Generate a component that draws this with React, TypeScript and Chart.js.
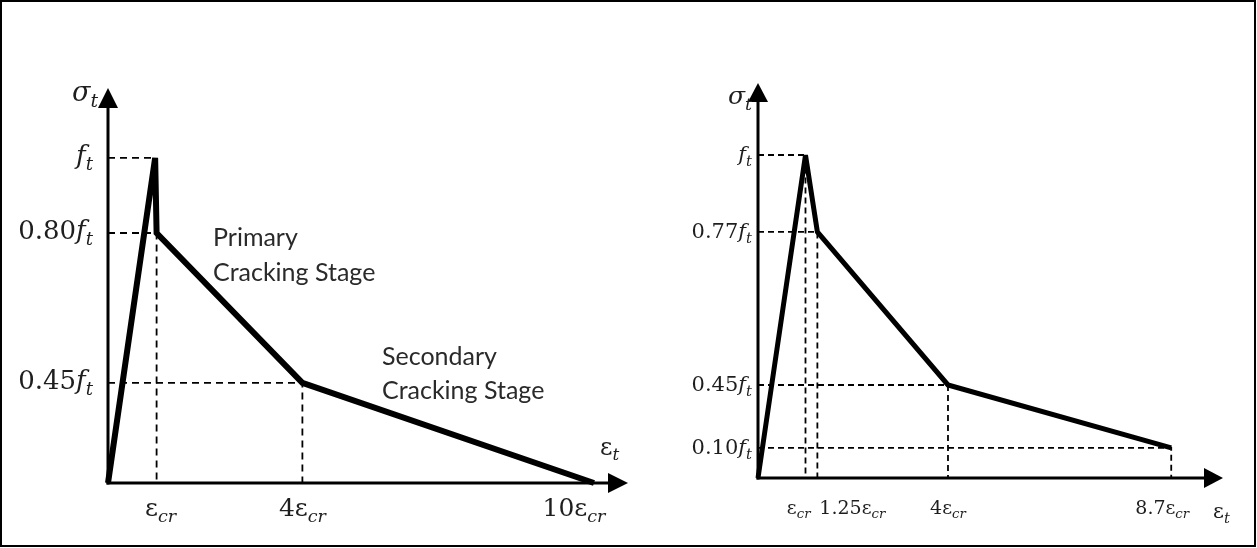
import React, { useEffect, useRef } from 'react';
import { Chart, registerables, LinearScale } from 'chart.js';

// ---------------- data: left diagram (strain in ε_cr, stress in f_t) ----------------
const leftStrain = [0, 0.97, 1, 4, 10];
const leftStress = [0, 1, 0.8, 0.45, 0];
const leftYTicks = [1, 0.8, 0.45];
const leftYCoef = ['', '0.80', '0.45'];
const leftXTicks = [1, 4, 10];
const leftXCoef = ['', '4', '10'];
const leftStageText = [['Primary', 'Cracking Stage'], ['Secondary', 'Cracking Stage']];

// ---------------- data: right diagram ----------------
const rightStrain = [0, 1, 1.25, 4, 8.7];
const rightStress = [0, 1, 0.77, 0.45, 0.1];
const rightYTicks = [1, 0.77, 0.45, 0.1];
const rightYCoef = ['', '0.77', '0.45', '0.10'];
const rightXTicks = [1, 1.25, 4, 8.7];
const rightXCoef = ['', '1.25', '4', '8.7'];

type Part = { t: string; it?: boolean; sub?: boolean };

const fT = (coef: string): Part[] => [
  ...(coef ? [{ t: coef }] : []),
  { t: 'f', it: true },
  { t: 't', it: true, sub: true },
];
const epsCr = (coef: string): Part[] => [
  ...(coef ? [{ t: coef }] : []),
  { t: 'ε' },
  { t: 'cr', it: true, sub: true },
];
const sigmaT: Part[] = [{ t: 'σ', it: true }, { t: 't', it: true, sub: true }];
const epsT: Part[] = [{ t: 'ε' }, { t: 't', it: true, sub: true }];

// ---------------- piecewise-warped linear scale (schematic spacing) ----------------
class WarpedScale extends LinearScale {
  static id = 'warped';
  getPixelForValue(value: number, index?: number) {
    const o: any = this.options;
    const from: number[] = o.warpFrom;
    const to: number[] = o.warpTo;
    let v = value;
    if (from && to && value != null) {
      let i = 0;
      while (i < from.length - 2 && value > from[i + 1]) i++;
      const t = (value - from[i]) / (from[i + 1] - from[i]);
      v = to[i] + t * (to[i + 1] - to[i]);
    }
    return super.getPixelForValue(v as any, index as any);
  }
}

Chart.register(...registerables, WarpedScale as any);

const SERIF = '"DejaVu Serif", serif';

function richWidth(ctx: CanvasRenderingContext2D, parts: Part[], size: number) {
  let w = 0;
  for (const p of parts) {
    const s = p.sub ? size * 0.7 : size;
    ctx.font = `${p.it ? 'italic ' : ''}${s}px ${SERIF}`;
    w += ctx.measureText(p.t).width;
  }
  return w;
}

function drawRich(
  ctx: CanvasRenderingContext2D,
  parts: Part[],
  x: number,
  baseline: number,
  align: 'left' | 'center' | 'right',
  size: number
) {
  const w = richWidth(ctx, parts, size);
  let cx = align === 'left' ? x : align === 'center' ? x - w / 2 : x - w;
  ctx.textAlign = 'left';
  ctx.textBaseline = 'alphabetic';
  for (const p of parts) {
    const s = p.sub ? size * 0.7 : size;
    ctx.font = `${p.it ? 'italic ' : ''}${s}px ${SERIF}`;
    ctx.fillText(p.t, cx, baseline + (p.sub ? size * 0.22 : 0));
    cx += ctx.measureText(p.t).width;
  }
}

type Spec = {
  width: number;
  padding: { left: number; right: number; top: number; bottom: number };
  xMax: number;
  yMax: number;
  warpFrom: number[];
  warpTo: number[];
  strain: number[];
  stress: number[];
  guides: { i: number; h: boolean; v: boolean }[];
  yTicks: number[];
  yLabels: Part[][];
  xTicks: number[];
  xLabels: Part[][];
  xAlign: ('left' | 'center' | 'right')[];
  xShift: number[];
  tickSize: number;
  xTickSize: number;
  yLabelGap: number;
  yLabelDrop: number;
  xLabelBaseline: number;
  lineWidth: number;
  miterLimit: number;
  dash: number[];
  axisWidth: number;
  arrowLen: number;
  arrowHalf: number;
  sigma: { dx: number; y: number; size: number };
  eps: { x: number; y: number; size: number };
  notes: { lines: string[]; x: number; y: number[] }[];
  noteSize: number;
};

function makePlugin(spec: Spec) {
  return {
    id: 'diagram',
    beforeDatasetsDraw(chart: any) {
      const { ctx, chartArea: a, scales } = chart;
      const x = scales.x, y = scales.y;
      const ox = x.getPixelForValue(0);
      const oy = y.getPixelForValue(0);
      ctx.save();
      ctx.strokeStyle = '#000';
      ctx.fillStyle = '#000';
      ctx.lineWidth = spec.axisWidth;
      ctx.lineCap = 'butt';
      ctx.beginPath();
      ctx.moveTo(ox, oy + spec.axisWidth / 2);
      ctx.lineTo(ox, a.top + spec.arrowLen - 1);
      ctx.stroke();
      ctx.beginPath();
      ctx.moveTo(ox, a.top);
      ctx.lineTo(ox - spec.arrowHalf, a.top + spec.arrowLen);
      ctx.lineTo(ox + spec.arrowHalf, a.top + spec.arrowLen);
      ctx.closePath();
      ctx.fill();
      ctx.beginPath();
      ctx.moveTo(ox - spec.axisWidth / 2, oy);
      ctx.lineTo(a.right - spec.arrowLen + 1, oy);
      ctx.stroke();
      ctx.beginPath();
      ctx.moveTo(a.right, oy);
      ctx.lineTo(a.right - spec.arrowLen, oy - spec.arrowHalf);
      ctx.lineTo(a.right - spec.arrowLen, oy + spec.arrowHalf);
      ctx.closePath();
      ctx.fill();
      ctx.restore();
      ctx.miterLimit = spec.miterLimit;
    },
    afterDatasetsDraw(chart: any) {
      const { ctx, chartArea: a, scales } = chart;
      const x = scales.x, y = scales.y;
      const ox = x.getPixelForValue(0);
      const oy = y.getPixelForValue(0);
      ctx.save();
      ctx.fillStyle = '#1e1e1e';
      spec.yTicks.forEach((v, i) => {
        drawRich(ctx, spec.yLabels[i], ox - spec.yLabelGap, y.getPixelForValue(v) + spec.yLabelDrop, 'right', spec.tickSize);
      });
      spec.xTicks.forEach((v, i) => {
        drawRich(ctx, spec.xLabels[i], x.getPixelForValue(v) + spec.xShift[i], oy + spec.xLabelBaseline, spec.xAlign[i], spec.xTickSize);
      });
      drawRich(ctx, sigmaT, ox - spec.sigma.dx, a.top + spec.sigma.y, 'right', spec.sigma.size);
      drawRich(ctx, epsT, spec.eps.x, oy + spec.eps.y, 'left', spec.eps.size);
      ctx.fillStyle = '#2a2a2a';
      ctx.font = `${spec.noteSize}px Lato, "Open Sans", sans-serif`;
      ctx.textAlign = 'left';
      ctx.textBaseline = 'alphabetic';
      spec.notes.forEach((n) => n.lines.forEach((l, k) => ctx.fillText(l, n.x, n.y[k])));
      ctx.restore();
    },
  };
}

function buildConfig(spec: Spec): any {
  const main = {
    data: spec.strain.map((s, i) => ({ x: s, y: spec.stress[i] })),
    borderColor: '#000',
    borderWidth: spec.lineWidth,
    borderJoinStyle: 'miter',
    borderCapStyle: 'butt',
    pointRadius: 0,
    tension: 0,
    fill: false,
    clip: false,
  };
  const guides = spec.guides.map((g) => {
    const px = spec.strain[g.i];
    const py = spec.stress[g.i];
    const pts: { x: number; y: number }[] = [];
    if (g.h) pts.push({ x: 0, y: py });
    pts.push({ x: px, y: py });
    if (g.v) pts.push({ x: px, y: 0 });
    return {
      data: pts,
      borderColor: '#000',
      borderWidth: 1.8,
      borderDash: spec.dash,
      pointRadius: 0,
      tension: 0,
      fill: false,
      clip: false,
    };
  });
  return {
    type: 'line',
    data: { datasets: [main, ...guides] },
    options: {
      animation: false,
      responsive: false,
      events: [],
      layout: { padding: spec.padding },
      plugins: { legend: { display: false }, tooltip: { enabled: false }, title: { display: false } },
      scales: {
        x: { type: 'linear', display: false, min: 0, max: spec.xMax },
        y: { type: 'warped', display: false, min: 0, max: spec.yMax, warpFrom: spec.warpFrom, warpTo: spec.warpTo },
      },
    },
    plugins: [makePlugin(spec)],
  };
}

const leftSpec: Spec = {
  width: 650,
  padding: { left: 108, right: 22, top: 88, bottom: 65 },
  xMax: 10.7,
  yMax: 1.215,
  warpFrom: [0, 0.45, 0.8, 1, 2],
  warpTo: [0, 0.308, 0.769, 1, 2],
  strain: leftStrain,
  stress: leftStress,
  guides: [
    { i: 1, h: true, v: false },
    { i: 2, h: true, v: true },
    { i: 3, h: true, v: true },
  ],
  yTicks: leftYTicks,
  yLabels: leftYCoef.map(fT),
  xTicks: leftXTicks,
  xLabels: leftXCoef.map(epsCr),
  xAlign: ['center', 'center', 'center'],
  xShift: [4, 0, -20],
  tickSize: 26,
  xTickSize: 25,
  yLabelGap: 15,
  yLabelDrop: 6,
  xLabelBaseline: 33,
  lineWidth: 6,
  miterLimit: 6,
  dash: [7, 5],
  axisWidth: 3,
  arrowLen: 20,
  arrowHalf: 10,
  sigma: { dx: 10, y: 13, size: 27 },
  eps: { x: 600, y: -28, size: 24 },
  notes: [
    { lines: leftStageText[0], x: 213, y: [246, 281] },
    { lines: leftStageText[1], x: 382, y: [365, 399] },
  ],
  noteSize: 25,
};

const rightSpec: Spec = {
  width: 607,
  padding: { left: 108, right: 34, top: 83, bottom: 70 },
  xMax: 9.79,
  yMax: 1.223,
  warpFrom: [0, 0.1, 0.45, 0.77, 1, 2],
  warpTo: [0, 0.093, 0.288, 0.762, 1, 2],
  strain: rightStrain,
  stress: rightStress,
  guides: [
    { i: 1, h: true, v: true },
    { i: 2, h: true, v: true },
    { i: 3, h: true, v: true },
    { i: 4, h: true, v: true },
  ],
  yTicks: rightYTicks,
  yLabels: rightYCoef.map(fT),
  xTicks: rightXTicks,
  xLabels: rightXCoef.map(epsCr),
  xAlign: ['right', 'left', 'center', 'center'],
  xShift: [5, 2, 0, -9],
  tickSize: 21,
  xTickSize: 19,
  yLabelGap: 6,
  yLabelDrop: 6,
  xLabelBaseline: 36,
  lineWidth: 5,
  miterLimit: 2.2,
  dash: [6, 4],
  axisWidth: 3,
  arrowLen: 19,
  arrowHalf: 10,
  sigma: { dx: 6, y: 21, size: 25 },
  eps: { x: 1213 - 650, y: 40, size: 21 },
  notes: [],
  noteSize: 25,
};

function Diagram({ spec, left }: { spec: Spec; left: number }) {
  const ref = useRef<HTMLCanvasElement>(null);
  useEffect(() => {
    const chart = new Chart(ref.current as HTMLCanvasElement, buildConfig(spec));
    return () => chart.destroy();
  }, [spec]);
  return (
    <canvas
      ref={ref}
      width={spec.width}
      height={548}
      style={{ position: 'absolute', left, top: 0, width: spec.width, height: 548 }}
    />
  );
}

export default function App() {
  return (
    <div style={{ position: 'absolute', left: 0, top: 0, width: 1257, height: 548, background: '#fff', overflow: 'hidden' }}>
      <Diagram spec={leftSpec} left={0} />
      <Diagram spec={rightSpec} left={650} />
      <div
        style={{
          position: 'absolute',
          left: 0,
          top: 0,
          width: 1256,
          height: 547,
          border: '2px solid #000',
          boxSizing: 'border-box',
          pointerEvents: 'none',
        }}
      />
    </div>
  );
}
